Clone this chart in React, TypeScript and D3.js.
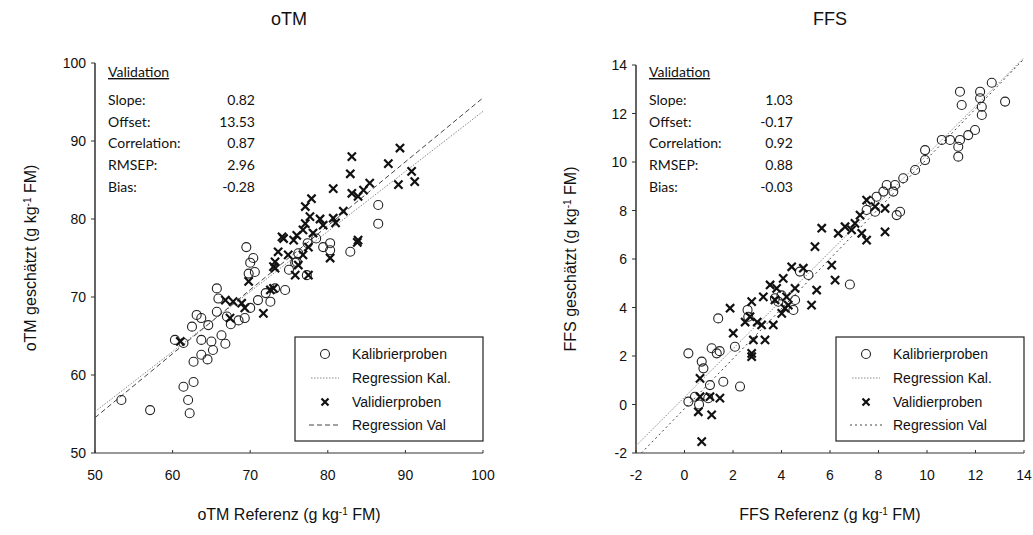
import React from "react";
import * as d3 from "d3";

type P = [number, number];

// ---- oTM data ----
const otmKal: P[] = [
  [53.4,56.8],[57.1,55.5],[62.2,55.1],[62.0,56.8],[61.4,58.5],[62.7,59.1],[60.3,64.5],[61.4,64.1],
  [62.7,61.7],[63.7,62.6],[65.2,63.2],[63.7,64.5],[65.0,64.3],[66.3,65.1],[62.5,66.2],[64.6,66.4],
  [63.7,67.3],[63.1,67.7],[65.7,68.1],[65.9,69.8],[65.7,71.1],[69.3,67.3],[70.0,68.6],[71.0,69.6],
  [72.6,69.4],[74.5,70.9],[73.2,71.1],[69.5,76.4],[70.4,75.0],[70.0,74.4],[69.8,73.0],[70.6,73.2],
  [75.8,74.4],[76.2,75.6],[77.4,76.9],[79.4,76.4],[80.3,76.0],[80.3,76.9],[82.9,75.8],[86.5,81.8],
  [86.5,79.4],[76.0,74.5],[77.3,72.8],[67.5,66.5],[68.5,67.0],[66.8,64.0],[64.5,62.0],[72.0,70.5],
  [78.5,77.5],[75.0,73.5],[67.0,67.5],
];
const otmVal: P[] = [
  [89.3,89.1],[83.1,88.0],[87.8,87.1],[82.9,85.8],[90.8,86.1],[91.2,84.8],[89.1,84.4],[80.7,83.9],
  [85.4,84.6],[84.6,83.7],[83.1,83.3],[83.9,82.9],[77.9,82.6],[77.1,81.6],[77.7,80.3],[80.7,80.1],
  [82.0,81.0],[79.4,79.2],[77.1,79.4],[76.8,78.6],[76.0,77.9],[74.3,77.5],[75.6,77.3],[78.1,78.2],
  [77.5,76.4],[73.6,75.8],[74.9,75.4],[76.8,75.4],[76.2,74.1],[73.0,73.9],[83.9,77.3],[83.8,77.0],
  [80.3,75.0],[75.8,72.8],[77.5,72.8],[69.8,72.0],[73.2,74.5],[73.2,73.7],[73.0,71.1],[71.7,67.9],
  [69.3,68.6],[67.4,67.3],[66.8,69.6],[68.9,69.2],[67.8,69.4],[61.0,64.3],[72.6,70.9],[74.1,77.7],
  [79.0,80.0],[81.0,79.5],
];
const otmTicks = [50, 60, 70, 80, 90, 100];
const otmYTicks = [50, 60, 70, 80, 90, 100];
const otmRegKal = { slope: 0.77, offset: 16.8 };
const otmRegVal = { slope: 0.82, offset: 13.53 };
const otmStats = [["Slope:", "0.82"], ["Offset:", "13.53"], ["Correlation:", "0.87"], ["RMSEP:", "2.96"], ["Bias:", "-0.28"]];

// ---- FFS data ----
const ffsKal: P[] = [
  [11.36,12.90],[12.19,12.90],[12.67,13.27],[13.22,12.49],[11.43,12.35],[12.19,12.63],[12.26,12.28],
  [12.26,11.94],[11.98,11.32],[11.70,11.11],[11.36,10.91],[11.29,10.63],[11.29,10.22],[10.95,10.91],
  [10.61,10.91],[9.92,10.49],[9.92,10.08],[9.51,9.67],[9.02,9.33],[8.68,9.05],[8.34,9.05],[8.61,8.78],
  [8.20,8.78],[7.92,8.57],[7.65,8.36],[7.51,8.02],[7.86,7.95],[8.89,7.95],[8.75,7.81],[6.82,4.95],
  [1.39,3.55],[0.16,2.11],[0.71,1.77],[0.78,1.49],[1.12,2.32],[1.33,2.11],[1.45,2.2],[2.08,2.38],
  [1.60,0.94],[2.29,0.74],[1.05,0.80],[0.16,0.12],[0.43,0.32],[0.98,0.26],[0.6,0.0],[2.63,3.62],
  [3.73,4.38],[4.56,4.31],[4.49,3.90],[4.76,5.48],[5.11,5.34],[3.87,4.24],[4.0,4.5],[2.6,3.9],
];
const ffsVal: P[] = [
  [5.66,7.27],[5.38,6.51],[6.34,7.06],[6.62,7.33],[7.03,7.47],[6.89,7.20],[7.31,7.06],[7.51,6.78],
  [8.27,7.12],[7.51,8.43],[7.86,8.16],[8.27,8.09],[7.24,7.81],[6.07,5.75],[6.21,5.13],[5.24,4.10],
  [5.45,4.72],[4.42,5.68],[4.90,5.62],[4.07,5.20],[3.53,4.93],[3.80,4.79],[4.56,4.79],[3.25,4.44],
  [2.77,4.24],[3.73,4.31],[4.21,4.44],[4.28,4.10],[4.14,3.97],[4.01,3.76],[1.88,3.97],[2.70,3.62],
  [3.18,3.28],[3.66,3.28],[2.01,2.94],[2.84,2.66],[3.32,2.66],[2.77,1.97],[2.77,2.11],[0.64,1.08],
  [1.05,0.32],[1.46,0.26],[0.57,-0.30],[1.12,-0.43],[0.64,0.32],[0.71,-1.53],[2.5,3.4],[3.0,3.4],
];
const ffsTicks = [-2, 0, 2, 4, 6, 8, 10, 12, 14];
const ffsYTicks = [-2, 0, 2, 4, 6, 8, 10, 12, 14];
const ffsRegKal = { slope: 1.0, offset: 0.3 };
const ffsRegVal = { slope: 1.03, offset: -0.17 };
const ffsStats = [["Slope:", "1.03"], ["Offset:", "-0.17"], ["Correlation:", "0.92"], ["RMSEP:", "0.88"], ["Bias:", "-0.03"]];

const legendLabels = ["Kalibrierproben", "Regression Kal.", "Validierproben", "Regression Val"];

const AX = "'Liberation Sans', Arial, sans-serif";
const CAL = "Lato, 'Open Sans', sans-serif";

interface PanelProps {
  title: string;
  name: string;
  x0: number; x1: number; y0: number; y1: number;
  domain: [number, number];
  xticks: number[]; yticks: number[];
  kal: P[]; val: P[];
  regKal: { slope: number; offset: number };
  regVal: { slope: number; offset: number };
  stats: string[][];
  statsX: number; valX: number;
  yLabelX: number;
  valDash: string;
}

function Cross({ cx, cy, s }: { cx: number; cy: number; s: number }) {
  return (
    <path d={`M${cx - s},${cy - s}L${cx + s},${cy + s}M${cx - s},${cy + s}L${cx + s},${cy - s}`}
      stroke="#111" strokeWidth={2.2} fill="none" />
  );
}

function Unit() {
  return (
    <>
      {" (g kg"}
      <tspan baselineShift="super" fontSize="10">-1</tspan>
      {" FM)"}
    </>
  );
}

function Panel(p: PanelProps) {
  const x = d3.scaleLinear().domain(p.domain).range([p.x0, p.x1]);
  const y = d3.scaleLinear().domain(p.domain).range([p.y0, p.y1]);
  const cx = (p.x0 + p.x1) / 2;
  const cy = (p.y0 + p.y1) / 2;
  const regPath = (r: { slope: number; offset: number }) => {
    const [a, b] = p.domain;
    let xs = a;
    if (r.slope * a + r.offset < a) xs = (a - r.offset) / r.slope;
    const pts: P[] = [[xs, r.slope * xs + r.offset], [b, r.slope * b + r.offset]];
    return d3.line<P>().x((d) => x(d[0])).y((d) => y(d[1]))(pts) || "";
  };
  const lgX = p.x1 - 188;
  const lgY = 337;
  const rowY = [354, 378, 402, 425];
  return (
    <g>
      <text x={cx} y={25} textAnchor="middle" fontFamily={AX} fontSize={18} fill="#111">{p.title}</text>
      <line x1={p.x0} x2={p.x0} y1={p.y0} y2={p.y1} stroke="#111" strokeWidth={1.3} />
      <line x1={p.x0} x2={p.x1} y1={p.y0} y2={p.y0} stroke="#333" strokeWidth={1} />
      {p.yticks.map((t) => (
        <g key={"y" + t}>
          <line x1={p.x0 - 4} x2={p.x0} y1={y(t)} y2={y(t)} stroke="#333" />
          <text x={p.x0 - 9} y={y(t) + 5} textAnchor="end" fontFamily={AX} fontSize={14} fill="#111">{t}</text>
        </g>
      ))}
      {p.xticks.map((t) => (
        <g key={"x" + t}>
          <line x1={x(t)} x2={x(t)} y1={p.y0} y2={p.y0 - 3} stroke="#333" />
          <text x={x(t)} y={p.y0 + 27} textAnchor="middle" fontFamily={AX} fontSize={14} fill="#111">{t}</text>
        </g>
      ))}
      <text x={cx} y={520} textAnchor="middle" fontFamily={AX} fontSize={16} fill="#111">
        {p.name + " Referenz"}<Unit />
      </text>
      <text transform={`translate(${p.yLabelX},${cy}) rotate(-90)`} textAnchor="middle" fontFamily={AX} fontSize={16} fill="#111">
        {p.name + " geschätzt"}<Unit />
      </text>
      <path d={regPath(p.regKal)} stroke="#888" strokeWidth={1} strokeDasharray="1.5,1.5" fill="none" />
      <path d={regPath(p.regVal)} stroke="#444" strokeWidth={1} strokeDasharray={p.valDash} fill="none" />
      {p.kal.map((d, i) => (
        <circle key={"k" + i} cx={x(d[0])} cy={y(d[1])} r={4.5} fill="none" stroke="#222" strokeWidth={1.1} />
      ))}
      {p.val.map((d, i) => (
        <Cross key={"v" + i} cx={x(d[0])} cy={y(d[1])} s={4.1} />
      ))}
      <text x={p.statsX} y={77} fontFamily={CAL} fontSize={14} fill="#111" textDecoration="underline">Validation</text>
      {p.stats.map((s, i) => (
        <g key={"s" + i}>
          <text x={p.statsX} y={105 + i * 21.7} fontFamily={CAL} fontSize={14} fill="#111">{s[0]}</text>
          <text x={p.valX} y={105 + i * 21.7} textAnchor="end" fontFamily={CAL} fontSize={14} fill="#111">{s[1]}</text>
        </g>
      ))}
      <rect x={lgX} y={lgY} width={188} height={104} fill="white" stroke="#222" strokeWidth={1.2} />
      <circle cx={lgX + 30} cy={rowY[0]} r={4.5} fill="none" stroke="#222" strokeWidth={1.1} />
      <line x1={lgX + 16} x2={lgX + 44} y1={rowY[1]} y2={rowY[1]} stroke="#888" strokeDasharray="1.5,1.5" />
      <Cross cx={lgX + 30} cy={rowY[2]} s={3.5} />
      <line x1={lgX + 14} x2={lgX + 46} y1={rowY[3]} y2={rowY[3]} stroke="#444" strokeDasharray={p.valDash} />
      {legendLabels.map((l, i) => (
        <text key={"l" + i} x={lgX + 57} y={rowY[i] + 5} fontFamily={AX} fontSize={14} fill="#111">{l}</text>
      ))}
    </g>
  );
}

export default function App() {
  return (
    <svg width={1033} height={535} style={{ position: "absolute", left: 0, top: 0, background: "white" }}>
      <rect width={1033} height={535} fill="white" />
      <Panel title="oTM" name="oTM" x0={95} x1={483} y0={453} y1={63} domain={[50, 100]}
        xticks={otmTicks} yticks={otmYTicks} kal={otmKal} val={otmVal}
        regKal={otmRegKal} regVal={otmRegVal} stats={otmStats} statsX={108} valX={255} yLabelX={36}
        valDash="5,3" />
      <Panel title="FFS" name="FFS" x0={636} x1={1024} y0={453} y1={65} domain={[-2, 14]}
        xticks={ffsTicks} yticks={ffsYTicks} kal={ffsKal} val={ffsVal}
        regKal={ffsRegKal} regVal={ffsRegVal} stats={ffsStats} statsX={649} valX={793} yLabelX={576}
        valDash="2,3" />
    </svg>
  );
}
